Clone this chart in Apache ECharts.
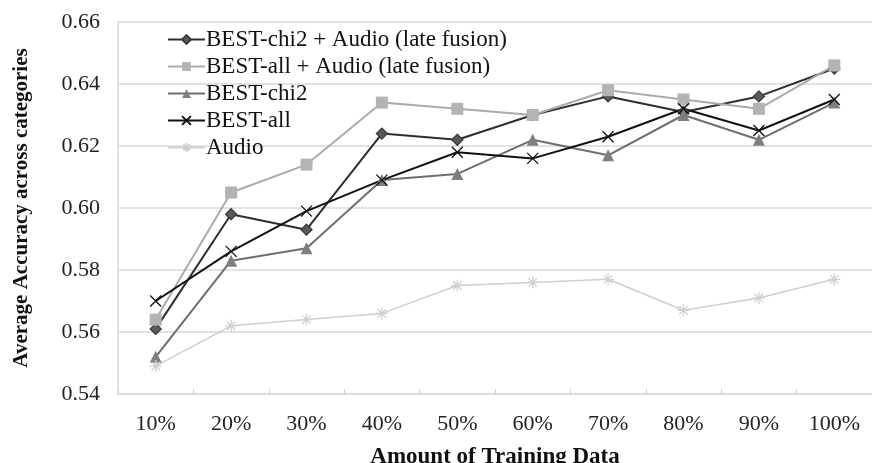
<!DOCTYPE html>
<html>
<head>
<meta charset="utf-8">
<script src="https://cdn.jsdelivr.net/npm/echarts@6/dist/echarts.min.js"></script>
<style>html,body{margin:0;padding:0;background:#fff}#c{width:872px;height:463px}</style>
</head>
<body>
<div id="c"></div>
<script>
var categories = ['10%','20%','30%','40%','50%','60%','70%','80%','90%','100%'];
var chi2Audio = [0.561,0.598,0.593,0.624,0.622,0.630,0.636,0.631,0.636,0.645];
var allAudio  = [0.564,0.605,0.614,0.634,0.632,0.630,0.638,0.635,0.632,0.646];
var chi2      = [0.552,0.583,0.587,0.609,0.611,0.622,0.617,0.630,0.622,0.634];
var bestAll   = [0.570,0.586,0.599,0.609,0.618,0.616,0.623,0.632,0.625,0.635];
var audio     = [0.549,0.562,0.564,0.566,0.575,0.576,0.577,0.567,0.571,0.577];
var yTicks = [0.54,0.56,0.58,0.60,0.62,0.64,0.66];

var FONT = '"Liberation Serif","Times New Roman",serif';
var X_PATH = 'path://M0,0L10,10M10,0L0,10';
var AST_PATH = 'path://M5,0L5,10M0,5L10,5M1.5,1.5L8.5,8.5M8.5,1.5L1.5,8.5';

function mk(name, data, color, lw, symbol, size, fill, border) {
  return {
    name: name, type: 'line', data: data, symbol: symbol, symbolSize: size,
    lineStyle: { color: color, width: lw },
    itemStyle: { color: fill, borderColor: border || fill, borderWidth: border ? 1.3 : 0 },
    emphasis: { disabled: true }, animation: false, z: 3
  };
}

var chart = echarts.init(document.getElementById('c'));
chart.setOption({
  animation: false,
  backgroundColor: '#fff',
  grid: { left: 118, right: 0, top: 22, bottom: 69, containLabel: false, outerBoundsMode: 'none' },
  legend: {
    left: 162, top: 23, orient: 'vertical', itemGap: 4,
    itemWidth: 37, itemHeight: 11,
    textStyle: { fontFamily: FONT, fontSize: 23, color: '#111', padding: [0,0,0,-4] },
    data: ['BEST-chi2 + Audio (late fusion)','BEST-all + Audio (late fusion)','BEST-chi2','BEST-all','Audio']
  },
  xAxis: {
    type: 'category', data: categories, boundaryGap: true,
    axisLine: { lineStyle: { color: '#d9d9d9', width: 1.5 } },
    axisTick: { show: true, inside: true, length: 5, lineStyle: { color: '#d0d0d0' } },
    axisLabel: { fontFamily: FONT, fontSize: 22, color: '#222', margin: 19 },
    name: 'Amount of Training Data', nameLocation: 'middle', nameGap: 52,
    nameTextStyle: { fontFamily: FONT, fontSize: 23, fontWeight: 'bold', color: '#111' }
  },
  yAxis: {
    type: 'value', min: 0.54, max: 0.66, interval: 0.02,
    axisLine: { show: true, lineStyle: { color: '#d9d9d9', width: 1.5 } },
    axisTick: { show: false },
    splitLine: { lineStyle: { color: '#d9d9d9', width: 1.5 } },
    axisLabel: { fontFamily: FONT, fontSize: 22, color: '#222', margin: 18,
      formatter: function (v) { return v.toFixed(2); } },
    name: 'Average Accuracy across categories', nameLocation: 'middle', nameGap: 86,
    nameTextStyle: { fontFamily: FONT, fontSize: 21, fontWeight: 'bold', color: '#111' }
  },
  series: [
    mk('BEST-chi2 + Audio (late fusion)', chi2Audio, '#2e2e2e', 2, 'diamond', 11, '#5a5a5a', '#3a3a3a'),
    mk('BEST-all + Audio (late fusion)', allAudio, '#ababab', 2, 'rect', 12, '#b3b3b3'),
    mk('BEST-chi2', chi2, '#6e6e6e', 2, 'triangle', 12, '#7f7f7f'),
    mk('BEST-all', bestAll, '#111111', 2, X_PATH, 11, 'transparent', '#111111'),
    mk('Audio', audio, '#cfcfcf', 1.5, AST_PATH, 12, 'transparent', '#cfcfcf')
  ]
});
</script>
</body>
</html>
